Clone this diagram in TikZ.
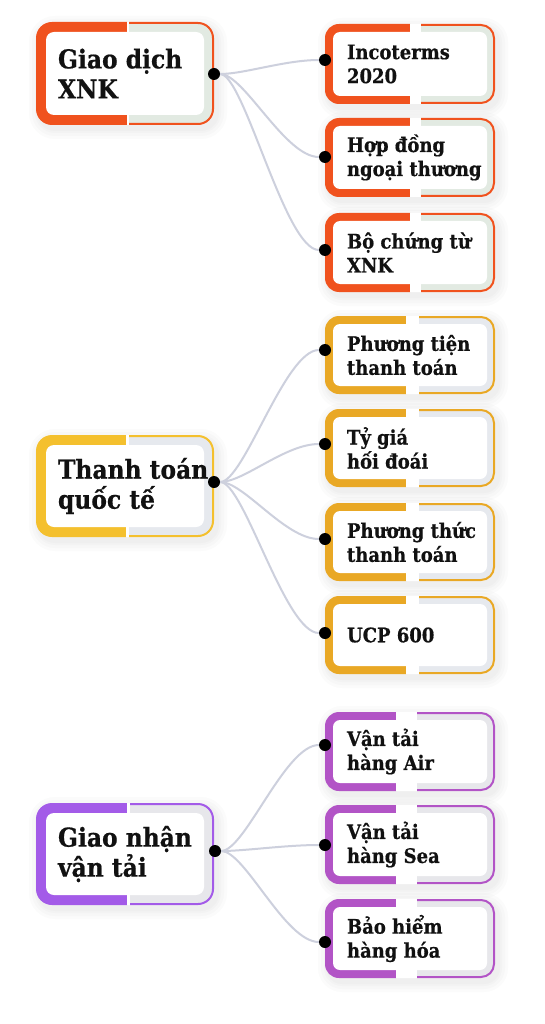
\documentclass[tikz,border=0pt]{standalone}
\usepackage{fontspec}
\newfontfamily\cardfamily{DejaVu Serif Condensed}[BoldFont={DejaVu Serif Condensed Bold},BoldFeatures={FakeBold=0.6}]
\definecolor{orangeC}{HTML}{F0521E}
\definecolor{yellowBig}{HTML}{F4C02E}
\definecolor{yellowSm}{HTML}{E9A825}
\definecolor{purpleBig}{HTML}{A35BE8}
\definecolor{purpleSm}{HTML}{B254C6}
\definecolor{bandO}{HTML}{E2EAE2}
\definecolor{bandY}{HTML}{E6E9EE}
\definecolor{bandP}{HTML}{E7E7EB}
\definecolor{linkC}{HTML}{CDD0DD}
\definecolor{textC}{HTML}{111111}
\definecolor{shadowC}{HTML}{5A6A60}
\tikzset{
  dot/.style={circle, fill=black, inner sep=0pt, minimum size=12pt},
  link/.style={draw=linkC, line width=2pt},
  bigtext/.style={font=\cardfamily\bfseries\fontsize{26}{30}\selectfont, text=textC},
  smalltext/.style={font=\cardfamily\bfseries\fontsize{20}{24}\selectfont, text=textC},
  whitebox/.style={fill=white, inner sep=0pt},
  cardtext/.style={anchor=west, align=left, inner sep=0pt},
  shadowlayer/.style={fill=shadowC, opacity=0.025},
}
% #1 name, #2 x1, #3 y1, #4 x2, #5 y2, #6 end of thick part, #7 start of thin part, #8 colour, #9 text
\newcommand\card[9]{%
  \pgfmathsetmacro\cw{#4-#2-2*\cinset}%
  \pgfmathsetmacro\ch{#5-#3-2*\cinset}%
  \foreach \shx in {10,7,4,2}
    \fill[shadowlayer, rounded corners=\crad+\shx] (#2+3-\shx,#3+4-\shx) rectangle (#4+3+\shx,#5+4+\shx);
  \begin{scope}
    \clip (#2-2,#3-2) rectangle (#6,#5+2);
    \fill[#8, rounded corners=\crad] (#2,#3) rectangle (#4,#5);
  \end{scope}
  \begin{scope}
    \clip (#6,#3-2) rectangle (#4+2,#5+2);
    \fill[white, rounded corners=\crad] (#2,#3) rectangle (#4,#5);
  \end{scope}
  \begin{scope}
    \clip (#7,#3-2) rectangle (#4+2,#5+2);
    \filldraw[fill=\cband, draw=#8, line width=2pt, rounded corners=\crad-1] (#2+1,#3+1) rectangle (#4-1,#5-1);
  \end{scope}
  \node[whitebox, rounded corners=\cirad, minimum width=\cw pt, minimum height=\ch pt] (#1) at ({(#2+#4)/2},{(#3+#5)/2}) {};
  \node[cardtext, \ctext] (#1t) at ([xshift=\cpad pt]#1.west) {#9};
}
\begin{document}
\begin{tikzpicture}[x=1pt, y=-1pt]
\fill[white] (0,0) rectangle (545,1024);
\useasboundingbox (0,0) rectangle (545,1024);

% ---------- big cards ----------
\def\cinset{10}\def\crad{16}\def\cirad{8}\def\cpad{12}\def\ctext{bigtext}
\def\cband{bandO}
\card{g1}{36}{22}{214}{125}{127}{129}{orangeC}{Giao dịch\\XNK}
\def\cband{bandY}
\card{g2}{36}{435}{214}{537}{126}{129}{yellowBig}{Thanh toán\\quốc tế}
\def\cband{bandP}
\card{g3}{36}{803}{214}{905}{127}{130}{purpleBig}{Giao nhận\\vận tải}

% ---------- small cards ----------
\def\cinset{8}\def\crad{14}\def\cirad{7}\def\cpad{14}\def\ctext{smalltext}
\def\cband{bandO}
\card{a1}{325}{24}{495}{104}{410}{421}{orangeC}{Incoterms\\2020}
\card{a2}{325}{118}{495}{197}{410}{421}{orangeC}{Hợp đồng\\ngoại thương}
\card{a3}{325}{213}{495}{292}{410}{421}{orangeC}{Bộ chứng từ\\XNK}
\def\cband{bandY}
\card{b1}{325}{316}{495}{394}{406}{419}{yellowSm}{Phương tiện\\thanh toán}
\card{b2}{325}{409}{495}{487}{406}{419}{yellowSm}{Tỷ giá\\hối đoái}
\card{b3}{325}{503}{495}{581}{406}{419}{yellowSm}{Phương thức\\thanh toán}
\card{b4}{325}{596}{495}{674}{406}{419}{yellowSm}{UCP 600}
\def\cband{bandP}
\card{c1}{325}{712}{495}{791}{396}{417}{purpleSm}{Vận tải\\hàng Air}
\card{c2}{325}{805}{495}{884}{396}{417}{purpleSm}{Vận tải\\hàng Sea}
\card{c3}{325}{899}{495}{978}{396}{417}{purpleSm}{Bảo hiểm\\hàng hóa}

% ---------- dots ----------
\node[dot] (g1d) at (214,74) {};
\node[dot] (g2d) at (214,482) {};
\node[dot] (g3d) at (215,851) {};
\node[dot] (a1d) at (325,60) {};
\node[dot] (a2d) at (325,157) {};
\node[dot] (a3d) at (325,250) {};
\node[dot] (b1d) at (325,350) {};
\node[dot] (b2d) at (325,444) {};
\node[dot] (b3d) at (325,539) {};
\node[dot] (b4d) at (325,633) {};
\node[dot] (c1d) at (325,745) {};
\node[dot] (c2d) at (325,845) {};
\node[dot] (c3d) at (325,942) {};

% ---------- connectors ----------
\foreach \s in {a1d,a2d,a3d}
  \draw[link] (g1d) .. controls +(30,0) and +(-40,0) .. (\s);
\foreach \s in {b1d,b2d,b3d,b4d}
  \draw[link] (g2d) .. controls +(30,0) and +(-40,0) .. (\s);
\foreach \s in {c1d,c2d,c3d}
  \draw[link] (g3d) .. controls +(30,0) and +(-40,0) .. (\s);
\end{tikzpicture}
\end{document}
